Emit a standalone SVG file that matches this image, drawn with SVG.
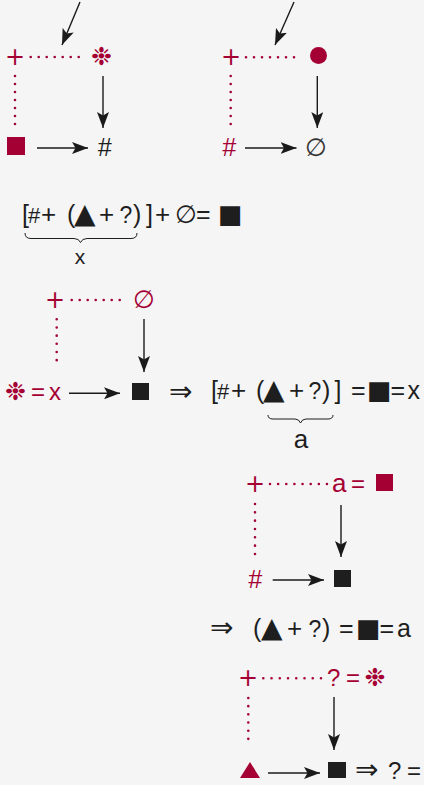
<svg xmlns="http://www.w3.org/2000/svg" width="424" height="785" viewBox="0 0 424 785">
<defs>
<marker id="ah" markerUnits="userSpaceOnUse" viewBox="0 0 16 12" refX="16" refY="6" markerWidth="16" markerHeight="12" orient="auto">
<path d="M0,0 L16,6 L0,12 L3.5,6 Z" fill="#1a1a1a"/>
</marker>
<style>
.bg{fill:#f5f5f5}
.r{fill:#a50034}
.k{fill:#1e1e1e}
.t{font-family:"Liberation Sans",Arial,sans-serif}
.d{font-family:"DejaVu Sans",sans-serif}
.dot{stroke:#a50034;stroke-width:2.6;stroke-linecap:round;stroke-dasharray:0 8;fill:none}
.arr{stroke:#1a1a1a;stroke-width:1.4;fill:none;marker-end:url(#ah)}
.brace{stroke:#1e1e1e;stroke-width:1;fill:none}
.plus{font-family:"DejaVu Sans",sans-serif;font-size:24px;text-anchor:middle}
.fp{font-size:26px}
.q{font-size:23px}
.h{font-size:22px}
.mid{text-anchor:middle}
.f{font-size:25px}
.tri{font-size:28px}
.sq{font-size:26px}
.star{font-size:25px}
</style>
</defs>
<rect class="bg" x="0" y="0" width="424" height="785"/>

<g id="connectors">
<line class="arr" x1="80" y1="2" x2="62" y2="45"/>
<line class="dot" x1="30.7" y1="57" x2="86.7" y2="57"/>
<line class="dot" x1="15" y1="76" x2="15" y2="125"/>
<line class="arr" x1="37" y1="148" x2="88" y2="148"/>
<line class="arr" x1="103" y1="76" x2="103" y2="128"/>

<line class="arr" x1="294" y1="2" x2="275" y2="45"/>
<line class="dot" x1="246" y1="57.3" x2="302" y2="57.3"/>
<line class="dot" x1="230.7" y1="76" x2="230.7" y2="125"/>
<line class="arr" x1="245" y1="148" x2="296.5" y2="148"/>
<line class="arr" x1="317.3" y1="76" x2="317.3" y2="128"/>

<line class="dot" x1="71.7" y1="300" x2="127.7" y2="300"/>
<line class="dot" x1="56.7" y1="319.3" x2="56.7" y2="368.3" style="stroke-dasharray:0 8.17"/>
<line class="arr" x1="69" y1="393.3" x2="120" y2="393.3"/>
<line class="arr" x1="144" y1="319" x2="144" y2="372"/>

<line class="dot" x1="270" y1="484" x2="327" y2="484" style="stroke-dasharray:0 8.14"/>
<line class="dot" x1="255" y1="504" x2="255" y2="554" style="stroke-dasharray:0 8.33"/>
<line class="arr" x1="272.7" y1="580" x2="324" y2="580"/>
<line class="arr" x1="341" y1="505" x2="341" y2="557"/>

<line class="dot" x1="263.3" y1="678.3" x2="321" y2="678.3" style="stroke-dasharray:0 8.24"/>
<line class="dot" x1="248.3" y1="698" x2="248.3" y2="747" style="stroke-dasharray:0 8.17"/>
<line class="arr" x1="268" y1="773" x2="320" y2="773"/>
<line class="arr" x1="334" y1="697" x2="334" y2="750"/>
</g>

<!-- diagram 1 -->
<g id="d1-plus"><text class="r plus" x="15" y="65">+</text></g>
<g id="d1-star"><text class="d r mid star" x="101.5" y="65">❉</text></g>
<g id="d1-square"><rect class="r" x="7" y="137" width="18" height="18"/></g>
<g id="d1-hash"><text class="t k mid" x="104.5" y="156" font-size="25" font-style="italic">#</text></g>

<!-- diagram 2 -->
<g id="d2-plus"><text class="r plus" x="231" y="65">+</text></g>
<g id="d2-circle"><circle class="r" cx="318.5" cy="55.5" r="8.5"/></g>
<g id="d2-hash"><text class="t r mid" x="229" y="156" font-size="25" font-style="italic">#</text></g>
<g id="d2-empty"><text class="d mid" x="316" y="156" font-size="25" fill="#333">∅</text></g>

<!-- formula 1 -->
<g id="formula1">
<text class="t k f" y="223"><tspan x="22">[</tspan><tspan class="h" x="28">#</tspan><tspan class="fp" x="41">+</tspan><tspan x="67">(</tspan><tspan class="d tri" x="74">▲</tspan><tspan class="fp" x="99">+</tspan><tspan class="q" x="119.5">?</tspan><tspan x="133">)</tspan><tspan x="146">]</tspan><tspan class="fp" x="155">+</tspan><tspan class="d" x="175">∅</tspan><tspan x="196">=</tspan><tspan class="d sq" x="218">■</tspan></text>
<path class="brace" d="M25,233 Q25,238.5 31,238.5 L74,238.5 Q79,238.5 80.5,242.5 Q82,238.5 87,238.5 L131,238.5 Q137,238.5 137,233"/>
<text class="t k mid" x="80" y="264" font-size="21">x</text>
</g>

<!-- diagram 3 -->
<g id="d3-plus"><text class="r plus" x="55" y="308">+</text></g>
<g id="d3-empty"><text class="d r mid" x="144" y="308" font-size="25">∅</text></g>
<g id="d3-star"><text class="r" y="400"><tspan class="d star" x="15.5" text-anchor="middle">❉</tspan><tspan class="t" x="31" font-size="24">=</tspan><tspan class="t" x="49" font-size="24">x</tspan></text></g>
<g id="d3-square"><rect class="k" x="132" y="383" width="17" height="17"/></g>
<g id="implies1"><text class="d k" x="169" y="401" font-size="28">⇒</text></g>

<!-- formula 2 -->
<g id="formula2">
<text class="t k f" y="399"><tspan x="211">[</tspan><tspan class="h" x="217">#</tspan><tspan class="fp" x="231">+</tspan><tspan x="256">(</tspan><tspan class="d tri" x="263">▲</tspan><tspan class="fp" x="289">+</tspan><tspan class="q" x="308.5">?</tspan><tspan x="322">)</tspan><tspan x="334.5">]</tspan><tspan x="351">=</tspan><tspan class="d sq" x="367">■</tspan><tspan x="390.5">=</tspan><tspan x="407.5">x</tspan></text>
<path class="brace" d="M268,415 Q268,419 273,419 L295,419 Q299,419 300.5,423 Q302,419 306,419 L328,419 Q333,419 333,415"/>
<text class="t k mid" x="301" y="448" font-size="26">a</text>
</g>

<!-- diagram 4 -->
<g id="d4-plus"><text class="r plus" x="255" y="492">+</text></g>
<g id="d4-a"><text class="r" y="492"><tspan class="t" x="332" font-size="26">a</tspan><tspan class="t" x="351" font-size="24">=</tspan></text><rect class="r" x="376" y="474" width="17" height="17"/></g>
<g id="d4-hash"><text class="t r mid" x="255" y="588" font-size="25" font-style="italic">#</text></g>
<g id="d4-square"><rect class="k" x="334" y="570" width="17" height="17"/></g>

<!-- formula 3 -->
<g id="formula3">
<text class="t k f" y="637"><tspan class="d" x="210" font-size="28">⇒</tspan><tspan x="253">(</tspan><tspan class="d tri" x="261">▲</tspan><tspan class="fp" x="287">+</tspan><tspan class="q" x="308.5">?</tspan><tspan x="322">)</tspan><tspan x="339">=</tspan><tspan class="d sq" x="356">■</tspan><tspan x="379.5">=</tspan><tspan x="397">a</tspan></text>
</g>

<!-- diagram 5 -->
<g id="d5-plus"><text class="r plus" x="248" y="686">+</text></g>
<g id="d5-q"><text class="r" y="686"><tspan class="t" x="327" font-size="24">?</tspan><tspan class="t" x="346" font-size="24">=</tspan><tspan class="d star" x="375" text-anchor="middle">❉</tspan></text></g>
<g id="d5-triangle"><polygon class="r" points="240,778 260,778 250,762"/></g>
<g id="d5-square"><rect class="k" x="328" y="762" width="18" height="16"/></g>
<g id="final"><text class="k" y="779"><tspan class="d" x="355" font-size="28">⇒</tspan><tspan class="t" x="388" font-size="24">?</tspan><tspan class="t" x="407" font-size="24">=</tspan></text></g>
</svg>
